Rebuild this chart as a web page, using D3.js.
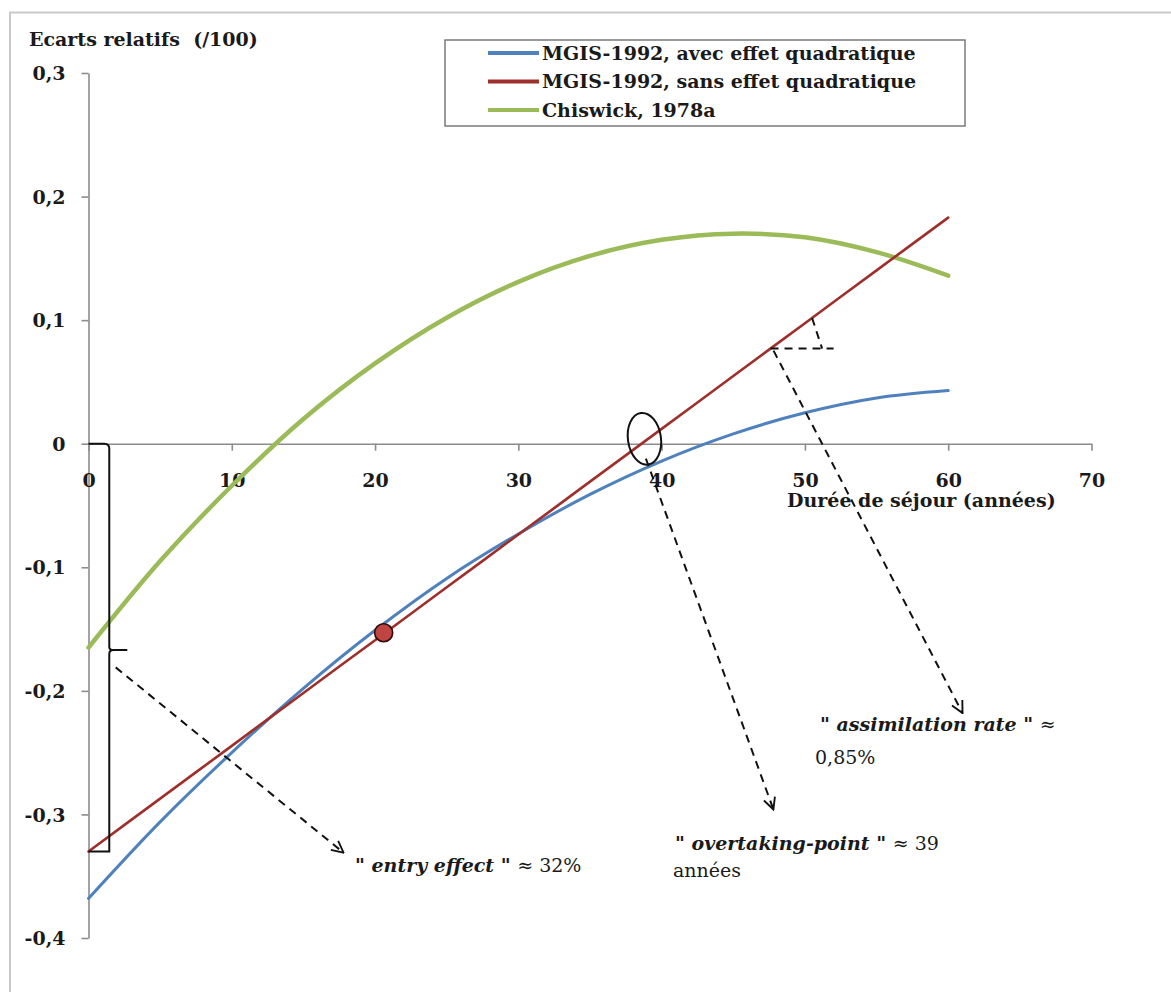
<!DOCTYPE html>
<html>
<head>
<meta charset="utf-8">
<script src="https://cdn.jsdelivr.net/npm/d3@7"></script>
<style>
  body { margin: 0; background: #fff; }
  svg { display: block; }
  text { font-family: "DejaVu Serif", "Liberation Serif", serif; fill: #1a1a1a; }
</style>
</head>
<body>
<svg id="chart" width="1171" height="992"></svg>
<script>
// Durée de séjour (années)
const years = [0, 5, 10, 15, 20, 25, 30, 35, 40, 45, 50, 55, 60];
// MGIS-1992, avec effet quadratique
const mgisQuad = [-0.368, -0.306, -0.250, -0.198, -0.151, -0.109, -0.073, -0.041, -0.014, 0.008, 0.025, 0.037, 0.043];
// MGIS-1992, sans effet quadratique
const mgisLin = [-0.330, -0.2872, -0.2445, -0.2017, -0.159, -0.1162, -0.0735, -0.0307, 0.012, 0.0548, 0.0975, 0.1403, 0.183];
// Chiswick, 1978a
const chiswick = [-0.165, -0.095, -0.034, 0.020, 0.065, 0.102, 0.131, 0.152, 0.165, 0.170, 0.167, 0.155, 0.136];

const seriesNames = ["MGIS-1992, avec effet quadratique", "MGIS-1992, sans effet quadratique", "Chiswick, 1978a"];
const seriesColors = ["#4f81bd", "#9e2f2b", "#9bbb59"];
const seriesWidths = [3, 2.6, 4.5];

const xTicks = [0, 10, 20, 30, 40, 50, 60, 70];
const yTicks = [0.3, 0.2, 0.1, 0, -0.1, -0.2, -0.3, -0.4];

// point marked on the linear profile
const markedYear = 20.6;
const markedValue = -0.153;

const svg = d3.select("#chart");
const x = d3.scaleLinear().domain([0, 70]).range([88.5, 1091.5]);
const y = d3.scaleLinear().domain([-0.4, 0.3]).range([938, 73]);

const fr = d3.formatLocale({ decimal: ",", thousands: " ", grouping: [3], currency: ["", " €"], minus: "-" });
const fmt = d => d === 0 ? "0" : fr.format(".1f")(d);

const FS = "19px";

// outer frame (top and left edges)
svg.append("path")
  .attr("d", "M10,992 L10,12.5 L1171,12.5")
  .attr("fill", "none").attr("stroke", "#c9c9c9").attr("stroke-width", 2);

// y axis
const gy = svg.append("g").attr("transform", `translate(${x(0)},0)`)
  .call(d3.axisLeft(y).tickValues(yTicks).tickFormat(fmt).tickSize(7).tickSizeOuter(0));
gy.select(".domain").attr("stroke", "#8c8c8c").attr("stroke-width", 1.6);
gy.selectAll(".tick line").attr("stroke", "#8c8c8c").attr("stroke-width", 1.6);
gy.selectAll(".tick text").attr("x", -23).attr("dy", "0.35em")
  .style("font-size", FS).style("font-weight", "bold").attr("fill", "#1a1a1a");

// x axis at zero
const gx = svg.append("g").attr("transform", `translate(0,${y(0)})`)
  .call(d3.axisBottom(x).tickValues(xTicks).tickFormat(d3.format("d")).tickSize(7).tickSizeOuter(0));
gx.select(".domain").attr("stroke", "#8c8c8c").attr("stroke-width", 1.6);
gx.selectAll(".tick line").attr("stroke", "#8c8c8c").attr("stroke-width", 1.6);
gx.selectAll(".tick text").attr("y", 37).attr("dy", "0.35em")
  .style("font-size", FS).style("font-weight", "bold").attr("fill", "#1a1a1a");

// axis titles
svg.append("text").attr("x", 29).attr("y", 46)
  .style("font-size", FS).style("font-weight", "bold").style("white-space", "pre")
  .text("Ecarts relatifs  (/100)");
svg.append("text").attr("x", 787).attr("y", 507)
  .style("font-size", FS).style("font-weight", "bold")
  .text("Durée de séjour (années)");

// curves
const allSeries = [mgisQuad, mgisLin, chiswick];
const line = d3.line()
  .x((d, i) => x(years[i]))
  .y(d => y(d))
  .curve(d3.curveCatmullRom.alpha(0.5));

// green first, then blue, red on top
[2, 0, 1].forEach(k => {
  svg.append("path")
    .datum(allSeries[k])
    .attr("d", line)
    .attr("fill", "none")
    .attr("stroke", seriesColors[k])
    .attr("stroke-width", seriesWidths[k])
    .attr("stroke-linejoin", "round")
    .attr("stroke-linecap", "round");
});

// marked point
svg.append("circle")
  .attr("cx", x(markedYear)).attr("cy", y(markedValue)).attr("r", 9)
  .attr("fill", "#c0443f").attr("stroke", "#2a0a0a").attr("stroke-width", 1.6);

// legend
const lg = svg.append("g");
lg.append("rect").attr("x", 445).attr("y", 40).attr("width", 520).attr("height", 86)
  .attr("fill", "#fff").attr("stroke", "#7a7a7a").attr("stroke-width", 1.5);
seriesNames.forEach((name, i) => {
  const cy = 53 + i * 28.5;
  lg.append("line").attr("x1", 488).attr("x2", 539).attr("y1", cy).attr("y2", cy)
    .attr("stroke", seriesColors[i]).attr("stroke-width", 4);
  lg.append("text").attr("x", 542).attr("y", cy).attr("dy", "0.35em")
    .style("font-size", FS).style("font-weight", "bold").text(name);
});

// annotations
const linAt = t => d3.interpolateNumber(mgisLin[0], mgisLin[mgisLin.length - 1])(t / 60);

const defs = svg.append("defs");
defs.append("marker").attr("id", "openArrow")
  .attr("viewBox", "0 0 12 12").attr("refX", 11).attr("refY", 6)
  .attr("markerWidth", 14).attr("markerHeight", 14)
  .attr("markerUnits", "userSpaceOnUse").attr("orient", "auto")
  .append("path").attr("d", "M1,1 L11,6 L1,11")
  .attr("fill", "none").attr("stroke", "#111").attr("stroke-width", 1.6);

const dashed = (x1, y1, x2, y2, arrow) => {
  const l = svg.append("line")
    .attr("x1", x1).attr("y1", y1).attr("x2", x2).attr("y2", y2)
    .attr("stroke", "#111").attr("stroke-width", 2).attr("stroke-dasharray", "8,6");
  if (arrow) l.attr("marker-end", "url(#openArrow)");
};

// entry-effect brace
const bx = x(1.45);
const yTop = y(0), yBot = y(mgisLin[0]), yMid = y(-0.167);
svg.append("path")
  .attr("d", `M${x(0)},${yTop} L${bx - 5},${yTop} Q${bx},${yTop} ${bx},${yTop + 5} L${bx},${yMid - 3}
              Q${bx},${yMid} ${bx + 4},${yMid} L${bx + 18},${yMid}
              M${bx + 4},${yMid} Q${bx},${yMid} ${bx},${yMid + 4} L${bx},${yBot} L${x(0)},${yBot}`)
  .attr("fill", "none").attr("stroke", "#111").attr("stroke-width", 2);

dashed(x(1.9), y(-0.181), x(17.8), y(-0.331), true);

// overtaking point
const tCross = 38.8;
svg.append("ellipse")
  .attr("cx", x(tCross)).attr("cy", y(0.004)).attr("rx", 16.5).attr("ry", 26)
  .attr("transform", `rotate(-8 ${x(tCross)} ${y(0.004)})`)
  .attr("fill", "none").attr("stroke", "#111").attr("stroke-width", 2);
dashed(x(38.9), y(-0.012), x(47.8), y(-0.296), true);

// assimilation-rate triangle
const tA = 47.6, tC = 50.5;
dashed(x(tA), y(linAt(tA)), x(52), y(linAt(tA)), false);
dashed(x(tC), y(linAt(tC)), x(51.2), y(linAt(tA)), false);
dashed(x(tA) + 3, y(linAt(tA)) + 2, x(61.0), y(-0.218), true);

// annotation texts
const note = (tx, ty, parts) => {
  const t = svg.append("text").attr("x", tx).attr("y", ty).style("font-size", FS);
  parts.forEach(p => {
    t.append("tspan").text(p[0])
      .style("font-style", p[1] ? "italic" : "normal")
      .style("font-weight", p[1] ? "bold" : "normal");
  });
};
note(355, 872, [["\" entry effect \" ", true], ["≈ 32%", false]]);
note(675, 850, [["\" overtaking-point \" ", true], ["≈ 39", false]]);
note(673, 877, [["années", false]]);
note(820, 731, [["\" assimilation rate \" ", true], ["≈", false]]);
note(815, 764, [["0,85%", false]]);
</script>
</body>
</html>
